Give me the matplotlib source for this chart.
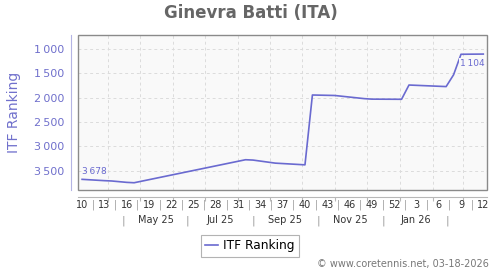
import datetime as dt
import matplotlib
matplotlib.use('Agg')
import matplotlib.pyplot as plt
from matplotlib.patches import Rectangle
from matplotlib.ticker import FuncFormatter

plt.rcParams['font.family'] = 'DejaVu Sans'

# weeks counted from ISO week 10 of 2025 (week 0) to week 12 of 2026 (week 54)
weeks = [0, 3, 4, 6, 7, 22, 23, 26, 30, 31, 34, 38, 39, 43, 44, 49, 50, 51, 54]
ranks = [3678, 3705, 3712, 3740, 3748, 3275, 3282, 3345, 3380, 1945, 1955,
         2020, 2030, 2033, 1740, 1772, 1530, 1108, 1104]

week_labels = ['10', '13', '16', '19', '22', '25', '28', '31', '34', '37',
               '40', '43', '46', '49', '52', '3', '6', '9', '12']
month_labels = ['May 25', 'Jul 25', 'Sep 25', 'Nov 25', 'Jan 26']
month_label_dates = [dt.date(2025, 5, 16), dt.date(2025, 7, 16), dt.date(2025, 9, 15),
                     dt.date(2025, 11, 15), dt.date(2026, 1, 16)]
month_sep_dates = [dt.date(2025, 4, 15), dt.date(2025, 6, 15), dt.date(2025, 8, 16),
                   dt.date(2025, 10, 16), dt.date(2025, 12, 16), dt.date(2026, 2, 15)]
month_starts = [dt.date(2025, m, 1) for m in range(4, 13)] + \
               [dt.date(2026, m, 1) for m in range(1, 4)]
y_ticks = [1000, 1500, 2000, 2500, 3000, 3500]

LINE = '#6a6ad0'
TICK_BLUE = '#7070cc'
START = dt.date(2025, 3, 3)


def week_pos(d):
    # week labels sit in the middle of each week
    return ((d - START).days - 4.5) / 7


fig = plt.figure(figsize=(5, 2.7), dpi=100)
ax = fig.add_axes([0.156, 0.2963, 0.818, 0.5741])
ax.set_facecolor('#f9f9f9')

ax.plot(weeks, ranks, color=LINE, linewidth=1.2, zorder=3)

ax.set_xlim(-0.55, 54.5)
ax.set_ylim(3897, 712)

# grid
ax.set_yticks(y_ticks)
ax.set_xticks([week_pos(d) for d in month_starts])
ax.grid(True, color='#dcdcdc', linestyle=(0, (3, 3)), linewidth=0.7)
ax.set_axisbelow(True)

# spines
for s in ['top', 'right']:
    ax.spines[s].set_visible(False)
ax.spines['left'].set_position(('outward', 5))
ax.spines['left'].set_color('#b4b4e4')
ax.spines['bottom'].set_position(('outward', 5))
ax.spines['bottom'].set_color('#b8b8b8')
ax.add_patch(Rectangle((0, 0), 1, 1, transform=ax.transAxes, fill=False,
                       edgecolor='#8a8a8a', linewidth=1.0, zorder=5, clip_on=False))

ax.yaxis.set_major_formatter(FuncFormatter(lambda v, p: f'{int(v):,}'.replace(',', '\u2009')))
ax.tick_params(axis='y', length=0, pad=5, labelsize=8, labelcolor=TICK_BLUE)
ax.tick_params(axis='x', length=3, color='#b8b8b8', labelbottom=False)

ax.set_ylabel('ITF Ranking', fontsize=10, color=TICK_BLUE)
ax.yaxis.set_label_coords(-0.139, 0.5)

# week labels with separators
for i, lab in enumerate(week_labels):
    ax.annotate(lab, xy=(i * 3, 0), xycoords=('data', 'axes fraction'),
                xytext=(0, -10.8), textcoords='offset points',
                ha='center', va='center', fontsize=7, color='#333333')
for i in range(len(week_labels) - 1):
    ax.annotate('|', xy=(i * 3 + 1.5, 0), xycoords=('data', 'axes fraction'),
                xytext=(0, -10.8), textcoords='offset points',
                ha='center', va='center', fontsize=7, color='#9a9a9a')

# month labels with separators
for lab, d in zip(month_labels, month_label_dates):
    ax.annotate(lab, xy=(week_pos(d), 0), xycoords=('data', 'axes fraction'),
                xytext=(0, -21.8), textcoords='offset points',
                ha='center', va='center', fontsize=7, color='#333333')
for d in month_sep_dates:
    ax.annotate('|', xy=(week_pos(d), 0), xycoords=('data', 'axes fraction'),
                xytext=(0, -21.8), textcoords='offset points',
                ha='center', va='center', fontsize=7.5, color='#9a9a9a')

# first / last value labels
ax.annotate(f'{ranks[0]:,}'.replace(',', '\u2009'), xy=(weeks[0], ranks[0]),
            xytext=(0, 6), textcoords='offset points', ha='left', va='center',
            fontsize=6.5, color=LINE, zorder=6)
ax.annotate(f'{ranks[-1]:,}'.replace(',', '\u2009'), xy=(weeks[-1], ranks[-1]),
            xytext=(1, -7), textcoords='offset points', ha='right', va='center',
            fontsize=6.5, color=LINE, zorder=6,
            bbox=dict(boxstyle='square,pad=0.15', facecolor='#f9f9f9', edgecolor='none'))

fig.text(0.502, 1 - 13 / 270, 'Ginevra Batti (ITA)', ha='center', va='center',
         fontsize=12, fontweight='bold', color='#666666')

leg = fig.legend(handles=ax.get_lines(), labels=['ITF Ranking'], loc='center',
                 bbox_to_anchor=(0.5, 1 - 246 / 270), fontsize=8.7, frameon=True,
                 fancybox=False, edgecolor='#a0a0a0', handlelength=1.1,
                 handletextpad=0.4, borderpad=0.35, borderaxespad=0)
leg.get_frame().set_linewidth(0.8)

fig.text(489 / 500, 1 - 264 / 270, '\u00a9 www.coretennis.net, 03-18-2026',
         ha='right', va='center', fontsize=7, color='#777777')

fig.savefig('out.png', dpi=100)
